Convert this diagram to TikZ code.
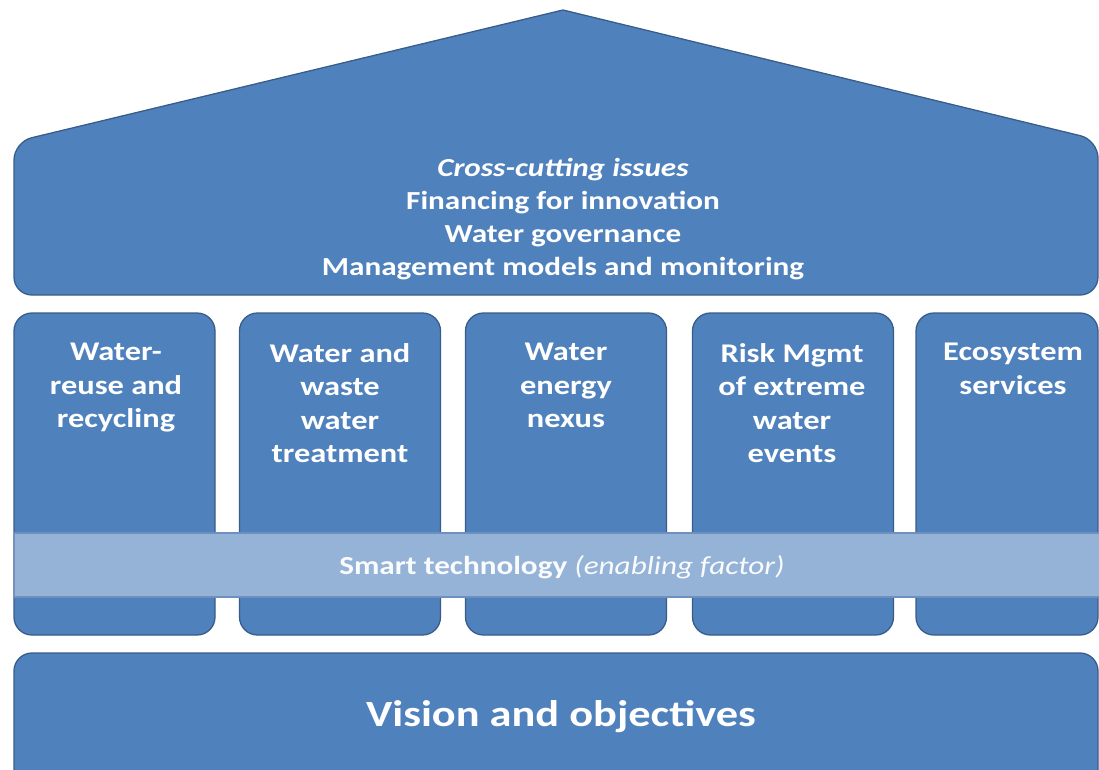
\documentclass[tikz,border=0pt]{standalone}
\usepackage{fontspec}
\setmainfont{Carlito}[FakeStretch=1.2]
\definecolor{boxblue}{HTML}{4F81BD}
\definecolor{edgeblue}{HTML}{385D8A}
\definecolor{bandblue}{HTML}{95B3D7}
\definecolor{bandedge}{HTML}{6F8FBF}
\begin{document}
\begin{tikzpicture}[x=1pt,y=-1pt,
  blockshape/.style={fill=boxblue,draw=edgeblue,line width=1.3pt,rounded corners=18pt},
  pillar/.style={blockshape,minimum width=201pt,minimum height=322pt,inner sep=0pt},
  ptext/.style={text=white,font=\fontsize{27}{33.5}\selectfont\bfseries,align=center,inner sep=0pt,anchor=north},
  toptext/.style={text=white,font=\fontsize{26}{33}\selectfont\bfseries,align=center,inner sep=0pt},
  bandbox/.style={fill=bandblue,draw=bandedge,line width=1.2pt,minimum width=1090pt,minimum height=64pt,inner sep=0pt}
]
\useasboundingbox (0,0) rectangle (1099,769);
\fill[white] (0,0) rectangle (1099,769);

% roof / cross-cutting block (open path so the apex stays sharp)
\draw[blockshape,line cap=round,line join=round] (563,10) -- (1098,140) -- (1098,295) -- (14,295) -- (14,142) -- (563,10);
\node[toptext] (issues) at (563,219) {\textit{Cross-cutting issues}\\Financing for innovation\\Water governance\\Management models and monitoring};

% pillars
\node[pillar] (p1) at (114.5,474) {};
\node[pillar] (p2) at (340,474) {};
\node[pillar] (p3) at (566,474) {};
\node[pillar] (p4) at (793,474) {};
\node[pillar,minimum width=182pt] (p5) at (1007,474) {};

\node[ptext] (t1) at (116,343) {Water-\\reuse and\\recycling};
\node[ptext] (t2) at (340,343) {Water and\\waste\\water\\treatment};
\node[ptext] (t3) at (566,343) {Water\\energy\\nexus};
\node[ptext] (t4) at (792,343) {Risk Mgmt\\of extreme\\water\\events};
\node[ptext] (t5) at (1013,343) {Ecosystem\\services};

% enabling band
\node[bandbox,anchor=west] (band) at (14,565) {};
\node[text=white!95!bandblue,font=\fontsize{26}{30}\selectfont,inner sep=0pt] (bandtext) at (562,567) {\textbf{Smart technology} \textit{(enabling factor)}};

% base
\draw[blockshape] (14,653) rectangle (1098,800);
\node[text=white,font=\fontsize{37}{44}\selectfont\bfseries,inner sep=0pt] (vision) at (561,717) {Vision and objectives};
\end{tikzpicture}
\end{document}
